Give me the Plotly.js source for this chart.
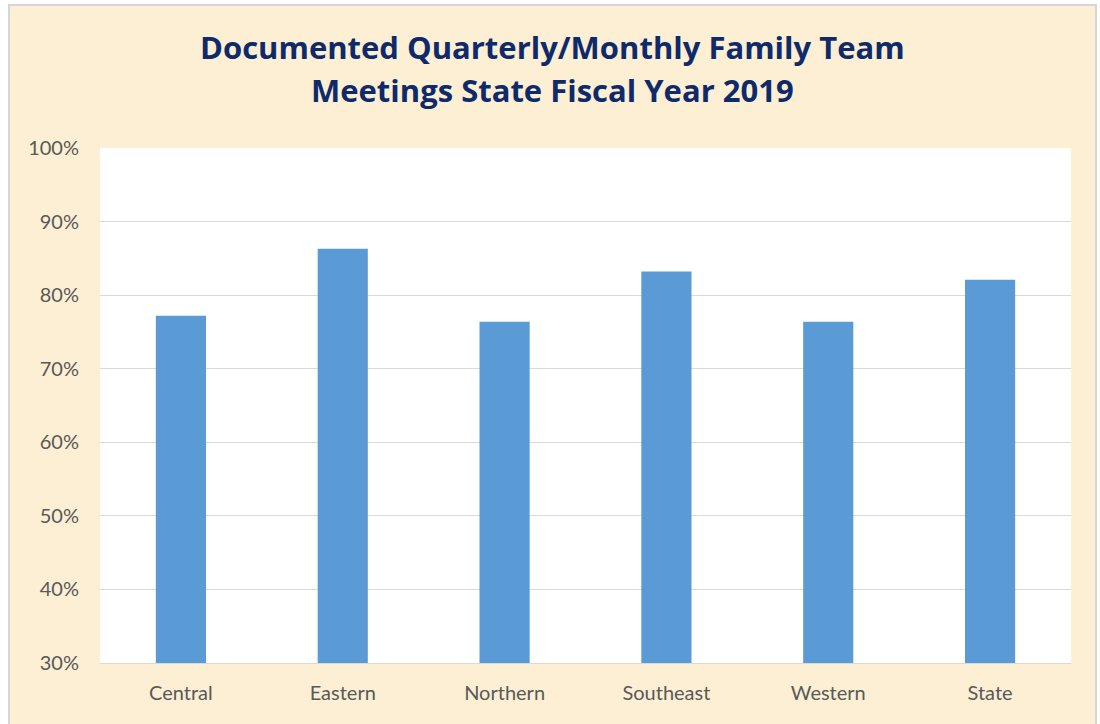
<!DOCTYPE html>
<html>
<head>
<meta charset="utf-8">
<script src="https://cdn.plot.ly/plotly-3.0.1.min.js"></script>
<style>
  html, body { margin: 0; padding: 0; background: #ffffff; }
  #bg { position: absolute; left: 8px; top: 4px; width: 1085px; height: 722px;
        background: #fcefd4; border-left: 2px solid #d6d6d6; border-top: 2px solid #d6d6d6; border-right: 2px solid #d6d6d6; }
  #chart { position: absolute; left: 0; top: 0; width: 1100px; height: 724px; }
</style>
</head>
<body>
<div id="bg"></div>
<div id="chart"></div>
<script>
const categories = ["Central", "Eastern", "Northern", "Southeast", "Western", "State"];
const values = [0.772, 0.863, 0.764, 0.832, 0.764, 0.821];
const titleLines = ["Documented Quarterly/Monthly Family Team", "Meetings State Fiscal Year 2019"];

const data = [{
  type: "bar",
  x: categories,
  y: values,
  marker: { color: "#5b9bd5" },
  hoverinfo: "x+y"
}];

const titleFont = { family: "'Open Sans', Lato, sans-serif", size: 31, color: "#0f2a6a", weight: "bold" };
const titleY = [1.196, 1.113];

const layout = {
  width: 1100,
  height: 724,
  paper_bgcolor: "rgba(0,0,0,0)",
  plot_bgcolor: "#ffffff",
  margin: { l: 100, r: 29, t: 148, b: 61 },
  bargap: 0.69,
  showlegend: false,
  annotations: titleLines.map((t, i) => ({
    text: "<b>" + t + "</b>",
    xref: "paper", yref: "paper",
    x: 0.4655, y: titleY[i],
    xanchor: "center", yanchor: "middle",
    showarrow: false,
    font: titleFont
  })),
  xaxis: {
    type: "category",
    showgrid: false,
    showline: true,
    linecolor: "#d9d9d9",
    linewidth: 1,
    ticks: "",
    ticklabelstandoff: 12,
    tickfont: { family: "Lato, 'Open Sans', sans-serif", size: 20, color: "#595959" },
    fixedrange: true
  },
  yaxis: {
    range: [0.3, 1.0],
    dtick: 0.1,
    tick0: 0.3,
    tickformat: ".0%",
    showgrid: true,
    gridcolor: "#d9d9d9",
    gridwidth: 1,
    zeroline: false,
    showline: false,
    ticks: "",
    ticklabelstandoff: 20,
    tickfont: { family: "Lato, 'Open Sans', sans-serif", size: 20, color: "#595959" },
    fixedrange: true
  }
};

Plotly.newPlot("chart", data, layout, { displayModeBar: false, staticPlot: true });
</script>
</body>
</html>
